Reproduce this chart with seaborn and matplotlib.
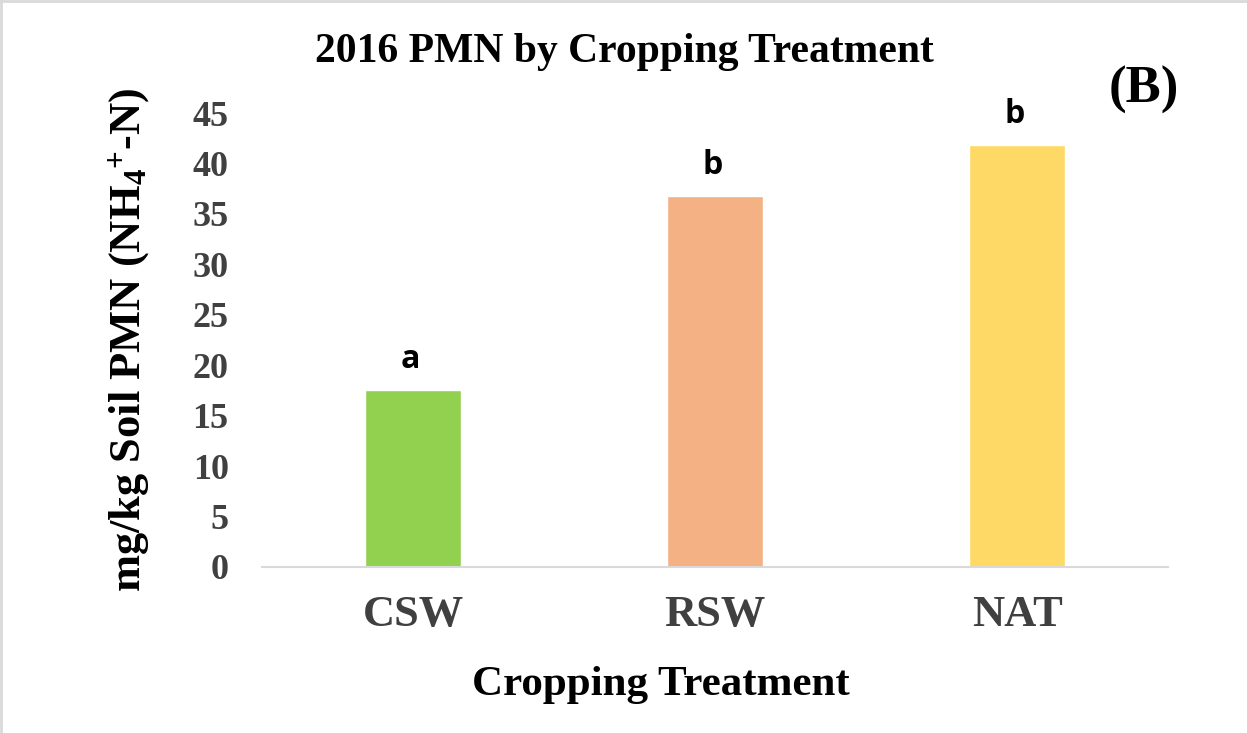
import matplotlib
matplotlib.use("Agg")
import matplotlib.pyplot as plt
import seaborn as sns
import pandas as pd
from matplotlib.lines import Line2D

# data
treatments = ["CSW", "RSW", "NAT"]
pmn_values = [17.5, 36.8, 41.8]
sig_letters = ["a", "b", "b"]
bar_colors = ["#92D050", "#F4B183", "#FFD966"]
y_ticks = [0, 5, 10, 15, 20, 25, 30, 35, 40, 45]

df = pd.DataFrame({"treatment": treatments, "pmn": pmn_values})

sns.set_style("white")
plt.rcParams["font.family"] = ["Liberation Serif", "DejaVu Serif"]
plt.rcParams["text.color"] = "black"
plt.rcParams["axes.labelcolor"] = "black"
plt.rcParams["mathtext.fontset"] = "custom"
plt.rcParams["mathtext.rm"] = "Liberation Serif:bold"
plt.rcParams["mathtext.it"] = "Liberation Serif:bold"
plt.rcParams["mathtext.bf"] = "Liberation Serif:bold"

fig = plt.figure(figsize=(12.47, 7.33), dpi=100)
ax = fig.add_axes([0.2101, 0.2265, 0.7266, 0.6193])

sns.barplot(data=df, x="treatment", y="pmn", hue="treatment",
            palette=bar_colors, width=0.315, dodge=False, legend=False,
            saturation=1, ax=ax)

ax.set_xlim(-0.5, 2.5)
ax.set_ylim(0, 45)
ax.set_yticks(y_ticks)
ax.set_yticklabels([str(t) for t in y_ticks], fontsize=26, fontweight="bold",
                   color="#404040")
ax.tick_params(axis="y", length=0, pad=24)
ax.tick_params(axis="x", length=0, pad=20)
for lbl in ax.get_xticklabels():
    lbl.set_fontsize(32)
    lbl.set_fontweight("bold")
    lbl.set_color("#404040")

for s in ["top", "right", "left"]:
    ax.spines[s].set_visible(False)
ax.spines["bottom"].set_color("#d9d9d9")
ax.spines["bottom"].set_linewidth(1.5)

# significance letters
for i, (v, letter) in enumerate(zip(pmn_values, sig_letters)):
    ax.annotate(letter, (i, v), xytext=(-2, 16), textcoords="offset points",
                ha="center", va="baseline", fontsize=23, fontweight="bold",
                family=["Open Sans", "DejaVu Sans"])

ax.set_xlabel("Cropping Treatment", fontsize=31, fontweight="bold")
ax.xaxis.set_label_coords(0.4404, -0.218)
ax.set_ylabel(r"mg/kg Soil PMN (NH$_4{}^{+}$-N)", fontsize=32, fontweight="bold")
ax.yaxis.set_label_coords(-0.1214, 0.50)

fig.text(0.5004, 0.9154, "2016 PMN by Cropping Treatment", ha="center",
         va="baseline", fontsize=30, fontweight="bold")
fig.text(0.9174, 0.8595, "(B)", ha="center", va="baseline", fontsize=38,
         fontweight="bold")

# light frame on top and left edges
fig.add_artist(Line2D([0, 1], [0.998, 0.998], color="#d9d9d9", lw=2,
                      transform=fig.transFigure))
fig.add_artist(Line2D([0.001, 0.001], [0, 1], color="#d9d9d9", lw=2,
                      transform=fig.transFigure))

fig.savefig("out.png", dpi=100)
